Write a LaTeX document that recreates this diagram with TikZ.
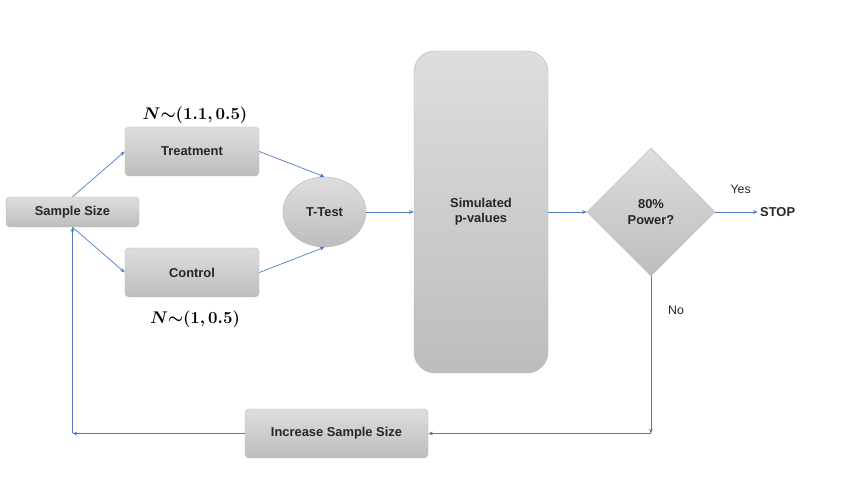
\documentclass[tikz,border=0pt]{standalone}
\usepackage{fontspec}
\setmainfont{Liberation Sans}
\usepackage{bm}
\usetikzlibrary{arrows.meta,shapes.geometric}
\definecolor{arrowblue}{RGB}{79,123,192}
\definecolor{labelgrey}{RGB}{38,38,38}
\tikzset{
	greybox/.style={draw=black!28, line width=0.4pt, top color=black!13, bottom color=black!26, rounded corners=3.5pt, inner sep=0pt, text=labelgrey, font=\fontsize{11}{13}\selectfont\bfseries, align=center},
	flow/.style={draw=arrowblue, line width=0.6pt, -{Stealth[length=4pt,width=3.2pt]}},
	plain/.style={draw=arrowblue, line width=0.6pt}
}

\begin{document}
\begin{tikzpicture}
			%%%%% START %%%%%
			
			\useasboundingbox (0, 0) rectangle (25.29, 14.76);
			
			\node[greybox, minimum width=3.99cm, minimum height=0.9cm] (size) at (2.175, 8.4) {Sample Size};
			\node[greybox, minimum width=4.02cm, minimum height=1.47cm] (treat) at (5.76, 10.215) {Treatment};
			\node[greybox, minimum width=4.02cm, minimum height=1.47cm] (ctrl) at (5.76, 6.585) {Control};
			\node[greybox, ellipse, minimum width=2.49cm, minimum height=2.1cm] (ttest) at (9.735, 8.4) {T-Test};
			\node[greybox, rounded corners=18pt, minimum width=4.02cm, minimum height=9.66cm] (pvals) at (14.43, 8.4) {Simulated\\p-values};
			\node[greybox, sharp corners, diamond, aspect=1, minimum width=3.84cm, minimum height=3.84cm] (power) at (19.53, 8.4) {80\%\\Power?};
			\node[greybox, minimum width=5.49cm, minimum height=1.47cm] (grow) at (10.095, 1.755) {Increase Sample Size};
			
			\node[anchor=west, text=labelgrey, font=\fontsize{11}{13}\selectfont\bfseries, inner sep=0pt] (stop) at (22.8, 8.4) {STOP};
			\node[text=labelgrey, font=\fontsize{10.5}{12}\selectfont] (yes) at (22.22, 9.09) {Yes};
			\node[text=labelgrey, font=\fontsize{10.5}{12}\selectfont] (no) at (20.28, 5.46) {No};
			\node[font=\fontsize{13.5}{15}\selectfont] (treatlab) at (5.85, 11.31) {$\bm{N{\sim}(1.1, 0.5)}$};
			\node[font=\fontsize{13.5}{15}\selectfont] (ctrllab) at (5.85, 5.19) {$\bm{N{\sim}(1, 0.5)}$};
			
			\coordinate (turn) at (power.south |- grow.east);
			\coordinate (back) at (size.south |- grow.west);
			
			\draw[flow] (size.north) -- (treat.west);
			\draw[flow] (size.south) -- (ctrl.west);
			\draw[flow] (treat.east) -- (ttest.north);
			\draw[flow] (ctrl.east) -- (ttest.south);
			\draw[flow] (ttest.east) -- (pvals.west);
			\draw[flow] (pvals.east) -- (power.west);
			\draw[flow] (power.east) -- ([xshift=-2pt]stop.west);
			\draw[flow] (power.south) -- (turn);
			\draw[flow] (turn) -- (grow.east);
			\draw[flow] (grow.west) -- (back);
			\draw[flow] (back) -- (size.south);
			
			%%%%% END %%%%%
\end{tikzpicture}
\end{document}
